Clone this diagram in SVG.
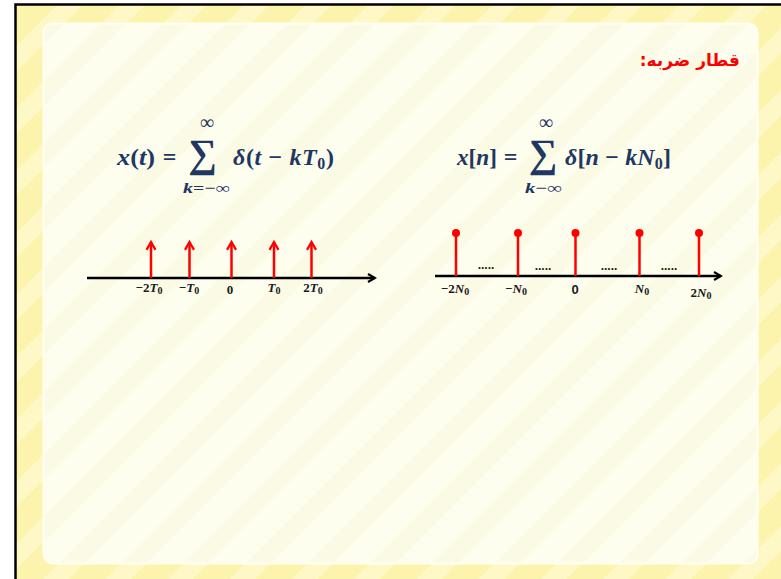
<svg xmlns="http://www.w3.org/2000/svg" width="781" height="579" viewBox="0 0 781 579">
<defs>
<pattern id="stripes" patternUnits="userSpaceOnUse" width="44" height="44" patternTransform="rotate(45)">
<rect x="0" y="0" width="44" height="44" fill="#FCF3AC"/>
<rect x="0" y="0" width="18" height="44" fill="#FEF8C6"/>
</pattern>
<pattern id="stripes2" patternUnits="userSpaceOnUse" width="44" height="44" patternTransform="rotate(45)">
<rect x="0" y="0" width="44" height="44" fill="#FEFEEE"/>
<rect x="0" y="0" width="18" height="44" fill="#FBFAE4"/>
</pattern>
<marker id="redhead" viewBox="0 0 10 10" refX="8" refY="5" markerWidth="4.5" markerHeight="4.5" orient="auto" markerUnits="strokeWidth">
<path d="M1,1 L8,5 L1,9" fill="none" stroke="#FF0000" stroke-width="2"/>
</marker>
<marker id="blackhead" viewBox="0 0 10 10" refX="8" refY="5" markerWidth="4" markerHeight="4" orient="auto" markerUnits="strokeWidth">
<path d="M1,1 L8,5 L1,9" fill="none" stroke="#000" stroke-width="2.2"/>
</marker>
<style>
.m{font-family:"Liberation Serif","DejaVu Serif",serif;font-weight:bold;font-style:italic;fill:#1F3763;font-size:24px}
.up{font-style:normal}
.sig{font-family:"Liberation Serif","DejaVu Serif",serif;font-weight:bold;font-style:normal;fill:#1F3763;font-size:40px}
.sm{font-family:"Liberation Serif","DejaVu Serif",serif;font-weight:bold;font-style:italic;fill:#1F3763;font-size:15px}
.inf{font-family:"Liberation Serif","DejaVu Serif",serif;font-weight:normal;fill:#1F3763;font-size:20px}
.lab{font-family:"Liberation Serif","DejaVu Serif",serif;font-weight:bold;font-style:italic;fill:#1a1a1a;font-size:13px}
.axis{stroke:#000;stroke-width:2.5;fill:none}
.imp{stroke:#FF0000;stroke-width:2.5;fill:none}
.dots{font-family:"Liberation Sans",sans-serif;font-weight:bold;fill:#1a1a1a;font-size:12px}
</style>
</defs>
<g id="frame">
<rect x="15.5" y="4.5" width="780" height="590" fill="url(#stripes)" stroke="#000" stroke-width="2.5"/>
<rect x="43.5" y="23.5" width="714" height="540" rx="9" fill="url(#stripes2)" stroke="#FFFFF4" stroke-width="2"/>
</g>
<g id="title">
<text x="740" y="66" text-anchor="start" direction="rtl" font-family="'DejaVu Sans','Noto Sans',sans-serif" font-weight="bold" font-size="17" fill="#FF0000">قطار ضربه:</text>
</g>
<g id="formula-continuous">
<text x="117" y="165" class="m" textLength="38" lengthAdjust="spacingAndGlyphs">x<tspan class="up">(</tspan>t<tspan class="up">)</tspan></text>
<text x="169.5" y="165" class="m up" text-anchor="middle">=</text>
<text x="202.5" y="167" class="sig" text-anchor="middle">∑</text>
<text x="207" y="129" class="inf" text-anchor="middle">∞</text>
<text x="183" y="193" class="sm" textLength="47" lengthAdjust="spacingAndGlyphs">k<tspan style="font-style:normal">=−∞</tspan></text>
<text x="233" y="165" class="m" textLength="101">δ<tspan class="up">(</tspan>t <tspan class="up">−</tspan> kT<tspan font-size="16" dy="4" style="font-style:normal">0</tspan><tspan class="up" dy="-4">)</tspan></text>
</g>
<g id="formula-discrete">
<text x="457" y="165" class="m" textLength="40" lengthAdjust="spacingAndGlyphs">x<tspan class="up">[</tspan>n<tspan class="up">]</tspan></text>
<text x="510.5" y="165" class="m up" text-anchor="middle">=</text>
<text x="543" y="167" class="sig" text-anchor="middle">∑</text>
<text x="546" y="129" class="inf" text-anchor="middle">∞</text>
<text x="525" y="193" class="sm" textLength="37" lengthAdjust="spacingAndGlyphs">k<tspan style="font-style:normal">−∞</tspan></text>
<text x="565" y="165" class="m" textLength="106">δ<tspan class="up">[</tspan>n <tspan class="up">−</tspan> kN<tspan font-size="16" dy="4" style="font-style:normal">0</tspan><tspan class="up" dy="-4">]</tspan></text>
</g>
<g id="impulse-train-continuous">
<line class="axis" x1="87" y1="278" x2="375" y2="278" marker-end="url(#blackhead)"/>
<line class="imp" x1="151" y1="278" x2="151" y2="242" marker-end="url(#redhead)"/>
<line class="imp" x1="189.5" y1="278" x2="189.5" y2="242" marker-end="url(#redhead)"/>
<line class="imp" x1="231.5" y1="278" x2="231.5" y2="242" marker-end="url(#redhead)"/>
<line class="imp" x1="274" y1="278" x2="274" y2="242" marker-end="url(#redhead)"/>
<line class="imp" x1="311.5" y1="278" x2="311.5" y2="242" marker-end="url(#redhead)"/>
<text class="lab" x="149" y="292" text-anchor="middle"><tspan style="font-style:normal">−2</tspan>T<tspan font-size="10" dy="2" style="font-style:normal">0</tspan></text>
<text class="lab" x="189" y="292" text-anchor="middle"><tspan style="font-style:normal">−</tspan>T<tspan font-size="10" dy="2" style="font-style:normal">0</tspan></text>
<text class="lab" x="230" y="294" text-anchor="middle" style="font-style:normal">0</text>
<text class="lab" x="274" y="292" text-anchor="middle">T<tspan font-size="10" dy="2" style="font-style:normal">0</tspan></text>
<text class="lab" x="313" y="292" text-anchor="middle"><tspan style="font-style:normal">2</tspan>T<tspan font-size="10" dy="2" style="font-style:normal">0</tspan></text>
</g>
<g id="impulse-train-discrete">
<line class="axis" x1="435" y1="276" x2="721" y2="276" marker-end="url(#blackhead)"/>
<g fill="#FF0000">
<line class="imp" x1="456" y1="276" x2="456" y2="233"/><circle cx="456" cy="233" r="4"/>
<line class="imp" x1="518" y1="276" x2="518" y2="233"/><circle cx="518" cy="233" r="4"/>
<line class="imp" x1="575.5" y1="276" x2="575.5" y2="233"/><circle cx="575.5" cy="233" r="4"/>
<line class="imp" x1="639.5" y1="276" x2="639.5" y2="233"/><circle cx="639.5" cy="233" r="4"/>
<line class="imp" x1="699" y1="276" x2="699" y2="233"/><circle cx="699" cy="233" r="4"/>
</g>
<text class="dots" x="486" y="269" text-anchor="middle">.....</text>
<text class="dots" x="543" y="270" text-anchor="middle">.....</text>
<text class="dots" x="609" y="270" text-anchor="middle">.....</text>
<text class="dots" x="669" y="270" text-anchor="middle">.....</text>
<text class="lab" x="455" y="293" text-anchor="middle"><tspan style="font-style:normal">−2</tspan>N<tspan font-size="10" dy="2" style="font-style:normal">0</tspan></text>
<text class="lab" x="516" y="293" text-anchor="middle"><tspan style="font-style:normal">−</tspan>N<tspan font-size="10" dy="2" style="font-style:normal">0</tspan></text>
<text x="575" y="294" text-anchor="middle" font-family="'Liberation Sans',sans-serif" font-weight="bold" font-size="13" fill="#1a1a1a">0</text>
<text class="lab" x="642" y="293" text-anchor="middle">N<tspan font-size="10" dy="2" style="font-style:normal">0</tspan></text>
<text class="lab" x="701" y="297" text-anchor="middle"><tspan style="font-style:normal">2</tspan>N<tspan font-size="10" dy="2" style="font-style:normal">0</tspan></text>
</g>
</svg>
